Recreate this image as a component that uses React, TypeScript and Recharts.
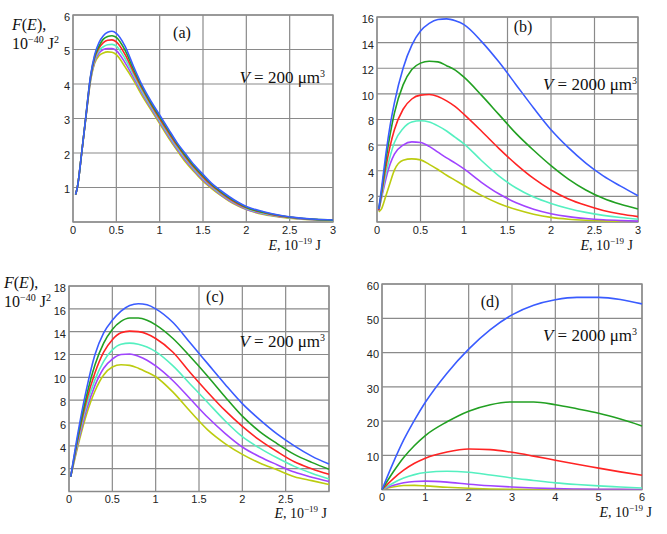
import React from "react";
import { CartesianGrid, Line, LineChart, ReferenceArea, XAxis, YAxis } from "recharts";

// colours shared by all four panels (top curve first)
const seriesColors = ["#3a5cff", "#22a022", "#ff2424", "#55f0c0", "#a044ff", "#bccc10"];

// panel (a): V = 200 um^3
const xA = [0.03, 0.05, 0.1, 0.15, 0.2, 0.25, 0.3, 0.35, 0.4, 0.45, 0.5, 0.6, 0.7, 0.8, 0.9, 1.0, 1.1, 1.2, 1.3, 1.4, 1.5, 1.6, 1.7, 1.8, 1.9, 2.0, 2.2, 2.4, 2.6, 2.8, 3.0];
const blueA = [0.8, 1.0, 2.0, 3.1, 4.2, 4.85, 5.2, 5.4, 5.5, 5.53, 5.47, 5.1, 4.5, 3.95, 3.5, 3.1, 2.7, 2.3, 1.97, 1.65, 1.38, 1.12, 0.92, 0.74, 0.58, 0.45, 0.3, 0.19, 0.12, 0.08, 0.06];
const greenA = [0.8, 1.0, 2.0, 3.1, 4.17, 4.8, 5.1, 5.3, 5.38, 5.4, 5.35, 4.98, 4.42, 3.9, 3.45, 3.05, 2.65, 2.27, 1.92, 1.61, 1.34, 1.09, 0.89, 0.71, 0.56, 0.43, 0.28, 0.18, 0.115, 0.075, 0.055];
const redA = [0.8, 1.0, 2.0, 3.08, 4.14, 4.75, 5.04, 5.2, 5.27, 5.28, 5.22, 4.86, 4.34, 3.85, 3.4, 2.99, 2.6, 2.22, 1.88, 1.57, 1.3, 1.06, 0.86, 0.68, 0.53, 0.41, 0.27, 0.17, 0.11, 0.072, 0.05];
const cyanA = [0.8, 1.0, 2.0, 3.07, 4.11, 4.7, 4.97, 5.08, 5.14, 5.15, 5.1, 4.74, 4.26, 3.78, 3.35, 2.94, 2.55, 2.17, 1.83, 1.53, 1.26, 1.03, 0.83, 0.66, 0.51, 0.39, 0.25, 0.16, 0.1, 0.068, 0.047];
const purpleA = [0.8, 1.0, 2.0, 3.06, 4.08, 4.65, 4.9, 5.0, 5.03, 5.03, 4.97, 4.62, 4.18, 3.72, 3.3, 2.9, 2.5, 2.12, 1.78, 1.49, 1.22, 1.0, 0.8, 0.63, 0.49, 0.37, 0.23, 0.15, 0.095, 0.064, 0.044];
const yellowA = [0.8, 1.0, 2.0, 3.05, 4.05, 4.6, 4.82, 4.9, 4.93, 4.92, 4.85, 4.5, 4.1, 3.65, 3.25, 2.85, 2.45, 2.08, 1.73, 1.45, 1.18, 0.97, 0.78, 0.61, 0.47, 0.36, 0.22, 0.14, 0.09, 0.06, 0.04];

// panel (b): V = 2000 um^3
const xB = [0.02, 0.05, 0.1, 0.15, 0.2, 0.3, 0.4, 0.5, 0.6, 0.7, 0.8, 0.9, 1.0, 1.2, 1.4, 1.6, 1.8, 2.0, 2.2, 2.4, 2.6, 2.8, 3.0];
const blueB = [1.0, 2.5, 5.2, 7.5, 9.3, 12.0, 13.8, 14.9, 15.5, 15.8, 15.85, 15.7, 15.4, 14.1, 12.5, 10.7, 8.9, 7.2, 5.8, 4.6, 3.6, 2.8, 2.05];
const greenB = [1.0, 2.3, 4.7, 6.8, 8.5, 10.7, 11.9, 12.4, 12.55, 12.5, 12.2, 11.85, 11.3, 9.9, 8.4, 6.9, 5.6, 4.4, 3.35, 2.5, 1.85, 1.38, 1.02];
const redB = [0.9, 2.1, 4.2, 5.9, 7.2, 8.8, 9.6, 9.9, 9.95, 9.8, 9.45, 9.0, 8.4, 7.1, 5.75, 4.5, 3.4, 2.5, 1.8, 1.3, 0.9, 0.62, 0.42];
const cyanB = [0.9, 1.9, 3.7, 5.1, 6.2, 7.3, 7.8, 7.9, 7.8, 7.5, 7.1, 6.6, 6.1, 4.8, 3.6, 2.65, 1.95, 1.45, 1.05, 0.75, 0.52, 0.35, 0.22];
const purpleB = [0.9, 1.8, 3.3, 4.5, 5.3, 6.0, 6.25, 6.2, 5.9, 5.45, 5.0, 4.6, 4.15, 3.1, 2.2, 1.5, 1.0, 0.65, 0.42, 0.27, 0.17, 0.11, 0.07];
const yellowB = [0.8, 1.0, 2.0, 3.05, 4.05, 4.82, 4.93, 4.85, 4.5, 4.1, 3.65, 3.25, 2.85, 2.08, 1.45, 0.97, 0.61, 0.36, 0.22, 0.14, 0.09, 0.06, 0.04];

// panel (c): V = 200 um^3
const xC = [0.02, 0.1, 0.2, 0.3, 0.4, 0.5, 0.6, 0.7, 0.8, 0.9, 1.0, 1.2, 1.4, 1.6, 1.8, 2.0, 2.2, 2.4, 2.6, 2.8, 3.0];
const blueC = [1.3, 5.0, 8.9, 12.0, 13.9, 15.0, 15.8, 16.3, 16.45, 16.35, 16.0, 14.8, 13.0, 11.2, 9.4, 7.7, 6.3, 5.05, 4.0, 3.1, 2.4];
const greenC = [1.3, 4.7, 8.3, 11.1, 13.0, 14.2, 14.9, 15.2, 15.2, 15.0, 14.6, 13.4, 11.8, 10.1, 8.3, 6.6, 5.25, 4.2, 3.25, 2.55, 1.95];
const redC = [1.3, 4.5, 7.9, 10.4, 12.2, 13.3, 13.9, 14.05, 14.0, 13.8, 13.4, 12.2, 10.4, 8.7, 7.1, 5.7, 4.5, 3.5, 2.6, 2.0, 1.5];
const cyanC = [1.3, 4.3, 7.5, 9.8, 11.4, 12.4, 12.9, 13.0, 12.9, 12.65, 12.25, 11.0, 9.4, 7.8, 6.2, 4.8, 3.8, 2.95, 2.2, 1.6, 1.1];
const purpleC = [1.3, 4.1, 7.1, 9.3, 10.8, 11.6, 12.0, 12.05, 11.85, 11.5, 11.0, 9.7, 8.1, 6.5, 5.1, 3.9, 3.05, 2.35, 1.7, 1.25, 0.88];
const yellowC = [1.3, 3.9, 6.7, 8.8, 10.2, 10.9, 11.1, 11.05, 10.8, 10.45, 10.05, 8.7, 7.0, 5.4, 4.2, 3.25, 2.5, 1.9, 1.3, 0.95, 0.62];

// panel (d): V = 2000 um^3
const xD = [0, 0.25, 0.5, 0.75, 1, 1.5, 2, 2.5, 3, 3.5, 4, 4.5, 5, 5.5, 6];
const blueD = [0, 7.6, 14.5, 20.3, 25.5, 34.0, 41.0, 46.7, 51.0, 53.8, 55.4, 56.1, 56.1, 55.5, 54.2];
const greenD = [0, 5.0, 9.4, 12.9, 15.8, 19.8, 22.9, 24.8, 25.6, 25.6, 24.8, 23.6, 22.3, 20.6, 18.6];
const redD = [0, 3.1, 5.7, 7.7, 9.2, 11.0, 11.85, 11.7, 10.9, 9.8, 8.6, 7.4, 6.3, 5.2, 4.2];
const cyanD = [0, 1.9, 3.4, 4.4, 5.0, 5.4, 5.1, 4.3, 3.4, 2.7, 2.0, 1.5, 1.1, 0.8, 0.5];
const purpleD = [0, 1.2, 2.0, 2.4, 2.5, 2.2, 1.6, 1.15, 0.8, 0.5, 0.3, 0.2, 0.12, 0.08, 0.05];
const yellowD = [0, 0.8, 1.2, 1.25, 1.1, 0.7, 0.4, 0.22, 0.12, 0.07, 0.04, 0.02, 0.01, 0.01, 0];

const xTicksHalf = [0, 0.5, 1, 1.5, 2, 2.5, 3];
const xTicksC = [0, 0.5, 1, 1.5, 2, 2.5];
const xTicksD = [0, 1, 2, 3, 4, 5, 6];
const yTicksA = [1, 2, 3, 4, 5, 6];
const yTicksB = [2, 4, 6, 8, 10, 12, 14, 16];
const yTicksC = [2, 4, 6, 8, 10, 12, 14, 16, 18];
const yTicksD = [10, 20, 30, 40, 50, 60];

const KEYS = ["blue", "green", "red", "cyan", "purple", "yellow"];

function buildRows(xs: number[], series: number[][]) {
  return xs.map((x, i) => {
    const row: Record<string, number> = { E: x };
    series.forEach((s, k) => (row[KEYS[k]] = s[i]));
    return row;
  });
}

const GRID = "#8a8a8a";
const SANS = "'Liberation Sans', Arial, sans-serif";
const SERIF = "'Liberation Serif', 'Times New Roman', serif";
const Y_W = 30;
const M_TOP = 10;
const M_RIGHT = 10;
const X_H = 20;

type PanelProps = {
  plotLeft: number;
  plotTop: number;
  plotW: number;
  plotH: number;
  rows: Array<Record<string, number>>;
  xDomain: [number, number];
  xTicks: number[];
  yDomain: [number, number];
  yTicks: number[];
};

function Panel({ plotLeft, plotTop, plotW, plotH, rows, xDomain, xTicks, yDomain, yTicks }: PanelProps) {
  const width = Y_W + plotW + M_RIGHT;
  const height = M_TOP + plotH + X_H;
  return (
    <div style={{ position: "absolute", left: plotLeft - Y_W, top: plotTop - M_TOP }}>
      <LineChart width={width} height={height} data={rows} margin={{ top: M_TOP, right: M_RIGHT, left: 0, bottom: 0 }}>
        <CartesianGrid stroke={GRID} strokeWidth={1.2} />
        <XAxis
          dataKey="E"
          type="number"
          domain={xDomain}
          ticks={xTicks}
          height={X_H}
          axisLine={false}
          tickLine={false}
          tickSize={0}
          tickMargin={4}
          interval={0}
          tick={{ fill: "#222", fontSize: 11, fontFamily: SANS }}
        />
        <YAxis
          type="number"
          domain={yDomain}
          ticks={yTicks}
          width={Y_W}
          axisLine={false}
          tickLine={false}
          tickSize={0}
          tickMargin={3}
          interval={0}
          allowDataOverflow
          tick={{ fill: "#222", fontSize: 11, fontFamily: SANS, dy: 2 }}
        />
        <ReferenceArea x1={xDomain[0]} x2={xDomain[1]} y1={yDomain[0]} y2={yDomain[1]} fill="none" stroke={GRID} strokeWidth={1.3} ifOverflow="extendDomain" />
        {KEYS.slice().reverse().map((k) => (
          <Line key={k} type="monotone" dataKey={k} stroke={seriesColors[KEYS.indexOf(k)]} strokeWidth={1.6} dot={false} isAnimationActive={false} />
        ))}
      </LineChart>
    </div>
  );
}

function Sup({ children, size = 10 }: { children: React.ReactNode; size?: number }) {
  return (
    <tspan dy={-6} fontSize={size}>
      {children}
    </tspan>
  );
}

function YTitle({ x, y }: { x: number; y: number }) {
  return (
    <g fontFamily={SERIF} fontSize={16} fill="#111">
      <text x={x} y={y}>
        <tspan fontStyle="italic">F</tspan>(<tspan fontStyle="italic">E</tspan>),
      </text>
      <text x={x} y={y + 19}>
        10<Sup>−40</Sup>
        <tspan dy={6}> J</tspan>
        <Sup>2</Sup>
      </text>
    </g>
  );
}

function XTitle({ x, y }: { x: number; y: number }) {
  return (
    <text x={x} y={y} textAnchor="end" fontFamily={SERIF} fontSize={14} fill="#111">
      <tspan fontStyle="italic">E</tspan>, 10<Sup size={9}>−19</Sup>
      <tspan dy={6}> J</tspan>
    </text>
  );
}

function Volume({ x, y, v }: { x: number; y: number; v: string }) {
  return (
    <text x={x} y={y} textAnchor="end" fontFamily={SERIF} fontSize={17} fill="#111">
      <tspan fontStyle="italic">V</tspan> = {v} μm<Sup>3</Sup>
    </text>
  );
}

function Tag({ x, y, t }: { x: number; y: number; t: string }) {
  return (
    <text x={x} y={y} textAnchor="middle" fontFamily={SERIF} fontSize={16} fill="#111">
      ({t})
    </text>
  );
}

export default function App() {
  const rowsA = buildRows(xA, [blueA, greenA, redA, cyanA, purpleA, yellowA]);
  const rowsB = buildRows(xB, [blueB, greenB, redB, cyanB, purpleB, yellowB]);
  const rowsC = buildRows(xC, [blueC, greenC, redC, cyanC, purpleC, yellowC]);
  const rowsD = buildRows(xD, [blueD, greenD, redD, cyanD, purpleD, yellowD]);

  return (
    <div style={{ position: "absolute", left: 0, top: 0, width: 667, height: 534, background: "#fff", overflow: "hidden" }}>
      <Panel plotLeft={72.7} plotTop={15} plotW={260} plotH={207} rows={rowsA} xDomain={[0, 3]} xTicks={xTicksHalf} yDomain={[0, 6]} yTicks={yTicksA} />
      <Panel plotLeft={376.7} plotTop={16.7} plotW={261} plotH={205} rows={rowsB} xDomain={[0, 3]} xTicks={xTicksHalf} yDomain={[0, 16]} yTicks={yTicksB} />
      <Panel plotLeft={69.3} plotTop={285.5} plotW={260} plotH={205.5} rows={rowsC} xDomain={[0, 3]} xTicks={xTicksC} yDomain={[0, 18]} yTicks={yTicksC} />
      <Panel plotLeft={381.7} plotTop={284.3} plotW={260} plotH={205.7} rows={rowsD} xDomain={[0, 6]} xTicks={xTicksD} yDomain={[0, 60]} yTicks={yTicksD} />
      <svg width={667} height={534} style={{ position: "absolute", left: 0, top: 0, pointerEvents: "none" }}>
        <YTitle x={12} y={30} />
        <YTitle x={4} y={288} />
        <Tag x={182} y={38} t="a" />
        <Tag x={523} y={32} t="b" />
        <Tag x={215} y={302} t="c" />
        <Tag x={490} y={307} t="d" />
        <Volume x={325} y={83} v="200" />
        <Volume x={637} y={90} v="2000" />
        <Volume x={325} y={347} v="200" />
        <Volume x={637} y={341} v="2000" />
        <XTitle x={321} y={250} />
        <XTitle x={633} y={250} />
        <XTitle x={327} y={518} />
        <XTitle x={652} y={517} />
      </svg>
    </div>
  );
}
